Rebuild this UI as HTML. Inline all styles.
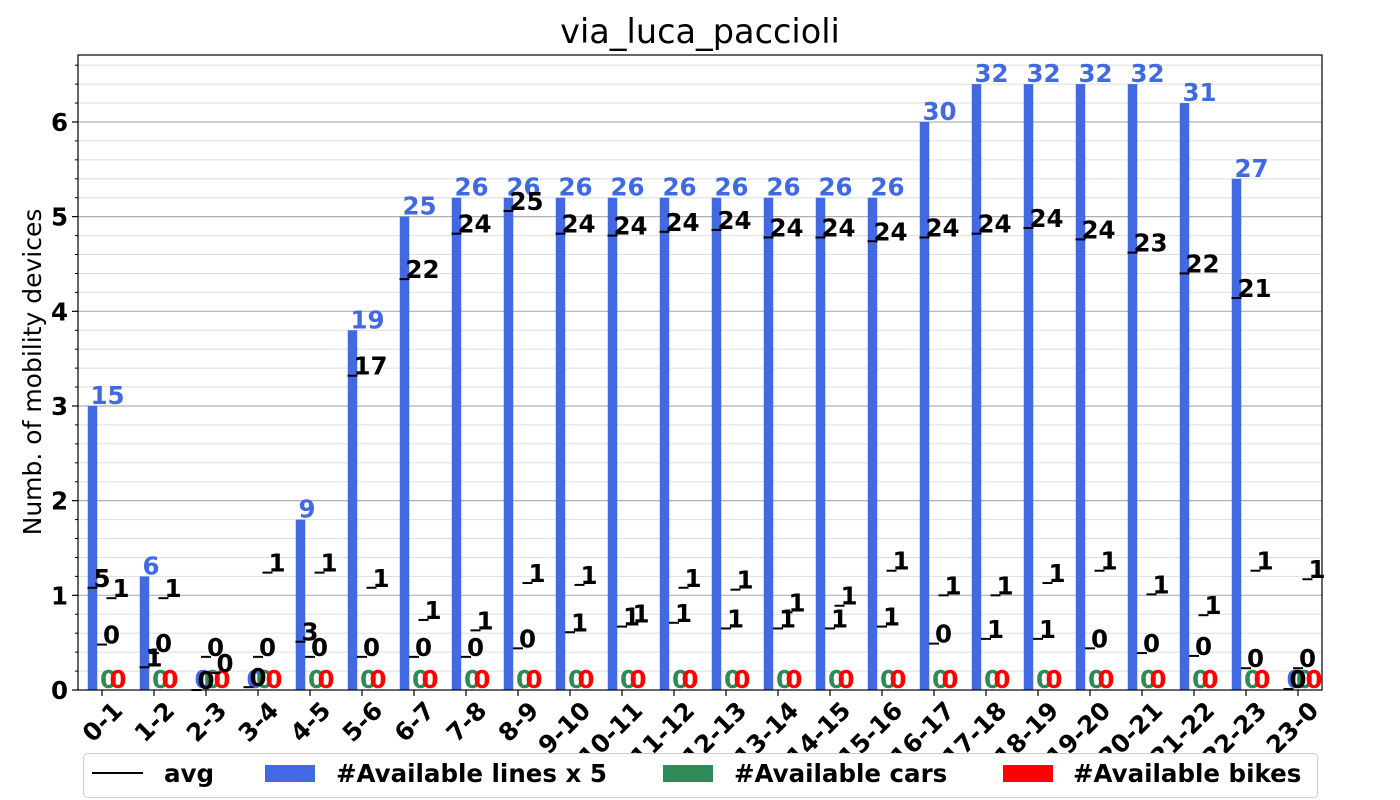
<!DOCTYPE html>
<html><head><meta charset="utf-8">
<style>
html,body{margin:0;padding:0;background:#fff;}
svg{display:block;font-family:"DejaVu Sans","Liberation Sans",sans-serif;}
</style></head>
<body>
<svg id="chart" width="1400" height="800" viewBox="0 0 1400 800">
  <text x="700" y="43" text-anchor="middle" font-size="33.5" fill="#000">via_luca_paccioli</text>
  <text transform="translate(41,372) rotate(-90)" text-anchor="middle" font-size="25" fill="#000">Numb. of mobility devices</text>
  <g id="grid"></g>
  <g id="bars"></g>
  <g id="avgs"></g>
  <g id="axes"></g>
  <g id="legend">
    <rect x="83.5" y="753.5" width="1234" height="44" rx="4" fill="#fff" stroke="#ccc"/>
    <line x1="92" y1="773" x2="143" y2="773" stroke="#000" stroke-width="2"/>
    <text x="164" y="782" font-size="24.5" font-weight="bold">avg</text>
    <rect x="265" y="765" width="50" height="17" fill="#4169e1"/>
    <text x="336" y="782" font-size="24.5" font-weight="bold">#Available lines x 5</text>
    <rect x="663" y="765" width="50" height="17" fill="#2e8b57"/>
    <text x="734" y="782" font-size="24.5" font-weight="bold">#Available cars</text>
    <rect x="1003" y="765" width="50" height="17" fill="#ff0000"/>
    <text x="1073" y="782" font-size="24.5" font-weight="bold">#Available bikes</text>
  </g>
</svg>
<script>
const categories = ["0-1","1-2","2-3","3-4","4-5","5-6","6-7","7-8","8-9","9-10","10-11","11-12","12-13","13-14","14-15","15-16","16-17","17-18","18-19","19-20","20-21","21-22","22-23","23-0"];
const linesValues = [15,6,0,0,9,19,25,26,26,26,26,26,26,26,26,26,30,32,32,32,32,31,27,0];
const carsValues = [0,0,0,0,0,0,0,0,0,0,0,0,0,0,0,0,0,0,0,0,0,0,0,0];
const bikesValues = [0,0,0,0,0,0,0,0,0,0,0,0,0,0,0,0,0,0,0,0,0,0,0,0];
const avgLines = [5.4,1.2,0,0.15,2.55,16.6,21.7,24.1,25.3,24.1,24,24.2,24.3,23.9,23.9,23.7,23.9,24.1,24.4,23.8,23.1,22.0,20.7,0.05];
const avgCars = [0.48,0.39,0.35,0.35,0.35,0.35,0.35,0.35,0.44,0.61,0.67,0.71,0.65,0.65,0.65,0.67,0.49,0.54,0.54,0.44,0.39,0.36,0.23,0.23];
const avgBikes = [0.97,0.97,0.18,1.24,1.24,1.08,0.74,0.63,1.13,1.11,0.7,1.08,1.06,0.82,0.89,1.26,1.0,1.0,1.13,1.26,1.01,0.79,1.26,1.17];
const yTicks = [0,1,2,3,4,5,6];

const NS = "http://www.w3.org/2000/svg";
const L = 78, R = 1322, T = 55, B = 690;
function yPos(v){ return B - v * 94.67; }
function xTick(i){ return 102 + i * 52; }
const BW = 9.5;
const FS = 24.5;
function mk(tag, attrs, parent){ const e = document.createElementNS(NS, tag); for (const k in attrs) e.setAttribute(k, attrs[k]); parent.appendChild(e); return e; }

const grid = document.getElementById('grid');
for (let v = 0.2; v < 6.7; v += 0.2) {
  const major = Math.abs(v - Math.round(v)) < 1e-6;
  const y = yPos(v);
  const g = mk('line', {x1:L, x2:R, y1:y, y2:y, stroke: major ? '#b0b0b0' : '#dedede', 'stroke-width': major ? 1.2 : 1}, grid);
  
  
}

const bars = document.getElementById('bars');
const avgG = document.getElementById('avgs');
categories.forEach((c, i) => {
  const t = xTick(i);
  const cx = [t - 9.5, t, t + 9.5];
  const h = linesValues[i] / 5;
  const b = mk('rect', {x: cx[0] - BW/2, y: yPos(h), width: BW, height: B - yPos(h), fill: '#4169e1'}, bars);
  
  
  const bl = mk('text', {x: cx[0] - 2, y: yPos(h) - 2, 'font-size': FS, 'font-weight': 'bold', fill: '#4169e1'}, bars);
  bl.textContent = linesValues[i];
  
  
  const cb = mk('rect', {x: cx[1] - BW/2, y: yPos(carsValues[i]), width: BW, height: B - yPos(carsValues[i]), fill: '#2e8b57'}, bars);
  
  
  const cl = mk('text', {x: cx[1] - 2, y: yPos(carsValues[i]) - 2, 'font-size': FS, 'font-weight': 'bold', fill: '#2e8b57'}, bars);
  cl.textContent = carsValues[i];
  
  
  const kb = mk('rect', {x: cx[2] - BW/2, y: yPos(bikesValues[i]), width: BW, height: B - yPos(bikesValues[i]), fill: '#ff0000'}, bars);
  
  
  const kl = mk('text', {x: cx[2] - 2, y: yPos(bikesValues[i]) - 2, 'font-size': FS, 'font-weight': 'bold', fill: '#ff0000'}, bars);
  kl.textContent = bikesValues[i];
  
  
  const avgs = [[avgLines[i] / 5, Math.round(avgLines[i])], [avgCars[i], Math.round(avgCars[i])], [avgBikes[i], Math.round(avgBikes[i])]];
  avgs.forEach((a, k) => {
    const y = yPos(a[0]);
    const m = mk('line', {x1: cx[k] - 5, x2: cx[k] + 5, y1: y, y2: y, stroke: '#000', 'stroke-width': 2}, avgG);
    
    
    const tl = mk('text', {x: cx[k] + 1, y: y - 1, 'font-size': FS, 'font-weight': 'bold', fill: '#000'}, avgG);
    tl.textContent = a[1];
    
    
  });
});

const axes = document.getElementById('axes');
const frame = mk('rect', {x: L, y: T, width: R - L, height: B - T, fill: 'none', stroke: '#000', 'stroke-width': 1.2}, axes);


for (let v = 0.2; v < 6.7; v += 0.2) {
  const major = Math.abs(v - Math.round(v)) < 1e-6;
  if (major) continue;
  const y = yPos(v);
  const tk = mk('line', {x1: L - 3, x2: L, y1: y, y2: y, stroke: '#000', 'stroke-width': 1}, axes);
  
  
}
yTicks.forEach(v => {
  const y = yPos(v);
  const tk = mk('line', {x1: L - 6, x2: L, y1: y, y2: y, stroke: '#000', 'stroke-width': 1.2}, axes);
  
  
  const tl = mk('text', {x: L - 10, y: y + 9, 'text-anchor': 'end', 'font-size': FS, 'font-weight': 'bold'}, axes);
  tl.textContent = v;
  
  
});
categories.forEach((c, i) => {
  const t = xTick(i);
  const tk = mk('line', {x1: t, x2: t, y1: B, y2: B + 6, stroke: '#000', 'stroke-width': 1.2}, axes);
  
  
  const tl = mk('text', {transform: 'translate(' + (t + 9) + ',' + (B + 9) + ') rotate(-45)', 'text-anchor': 'end', 'font-size': FS, 'font-weight': 'bold', 'dominant-baseline': 'hanging'}, axes);
  tl.textContent = c;
  
  
});
</script>
</body></html>
